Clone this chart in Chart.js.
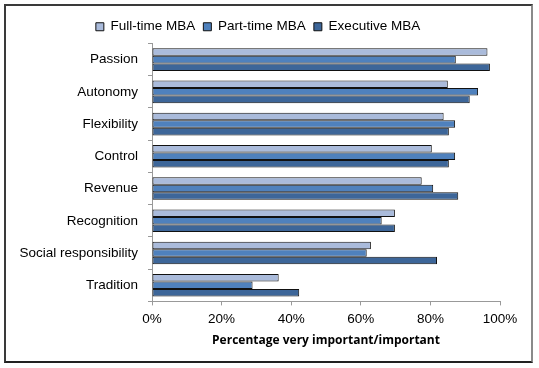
<!DOCTYPE html>
<html>
<head>
<meta charset="utf-8">
<script src="https://cdn.jsdelivr.net/npm/chart.js@4"></script>
<style>
  body { margin: 0; background: #fff; }
  #wrap { position: relative; width: 539px; height: 368px; }
  #frame {
    position: absolute; left: 4px; top: 4px; width: 525px; height: 355px;
    border: 2px solid #3a3a3a; border-right-color: #8a8a8a; border-bottom-color: #222;
    pointer-events: none;
  }
</style>
</head>
<body>
<div id="wrap">
  <canvas id="graphique" width="539" height="368"></canvas>
  <div id="frame"></div>
</div>
<script>
// categories (top to bottom)
const categories = ['Passion', 'Autonomy', 'Flexibility', 'Control', 'Revenue', 'Recognition', 'Social responsibility', 'Tradition'];

// percentages
const fullTime = [96.4, 85.0, 83.8, 80.4, 77.5, 69.8, 62.9, 36.4];
const partTime = [87.3, 93.7, 87.1, 87.1, 80.8, 66.0, 61.7, 28.9];
const executive = [97.1, 91.3, 85.3, 85.3, 88.0, 69.8, 81.9, 42.3];

const seriesNames = ['Full-time MBA', 'Part-time MBA', 'Executive MBA'];
const xTicks = [0, 20, 40, 60, 80, 100];

const graph = document.getElementById('graphique');

new Chart(graph, {
    type: 'bar',
    data: {
        labels: categories,
        datasets: [{
            label: seriesNames[0],
            data: fullTime,
            backgroundColor: '#AABBDB',
        }, {
            label: seriesNames[1],
            data: partTime,
            backgroundColor: '#4F81BD',
        }, {
            label: seriesNames[2],
            data: executive,
            backgroundColor: '#3D6699',
        }]
    },
    options: {
        indexAxis: 'y',
        responsive: false,
        animation: false,
        datasets: {
            bar: {
                borderColor: '#111',
                borderWidth: 1,
                borderSkipped: false,
                categoryPercentage: 0.7,
                barPercentage: 1
            }
        },
        layout: {
            padding: { left: 16, right: 39, top: 12, bottom: 20 }
        },
        plugins: {
            legend: {
                position: 'top',
                labels: {
                    boxWidth: 8,
                    boxHeight: 8,
                    padding: 8,
                    color: '#000',
                    font: { family: 'Liberation Sans', size: 13.5 }
                }
            },
            tooltip: { enabled: false }
        },
        scales: {
            y: {
                grid: {
                    drawOnChartArea: false,
                    tickLength: 4,
                    color: '#999'
                },
                border: { color: '#999' },
                ticks: {
                    color: '#000',
                    padding: 10,
                    font: { family: 'Liberation Sans', size: 13.5 }
                },
                afterFit: scale => { scale.width = 136; }
            },
            x: {
                min: 0,
                max: 100,
                afterBuildTicks: scale => {
                    scale.ticks = xTicks.map(v => ({ value: v }));
                },
                grid: {
                    drawOnChartArea: false,
                    tickLength: 4,
                    color: '#999'
                },
                border: { color: '#999' },
                ticks: {
                    color: '#000',
                    padding: 6,
                    font: { family: 'Liberation Sans', size: 13.5 },
                    callback: v => v + '%'
                },
                title: {
                    display: true,
                    text: 'Percentage very important/important',
                    color: '#000',
                    padding: { top: 0, bottom: 0 },
                    font: { family: 'Open Sans', size: 12, weight: 'bold' }
                }
            }
        }
    }
});
</script>
</body>
</html>
